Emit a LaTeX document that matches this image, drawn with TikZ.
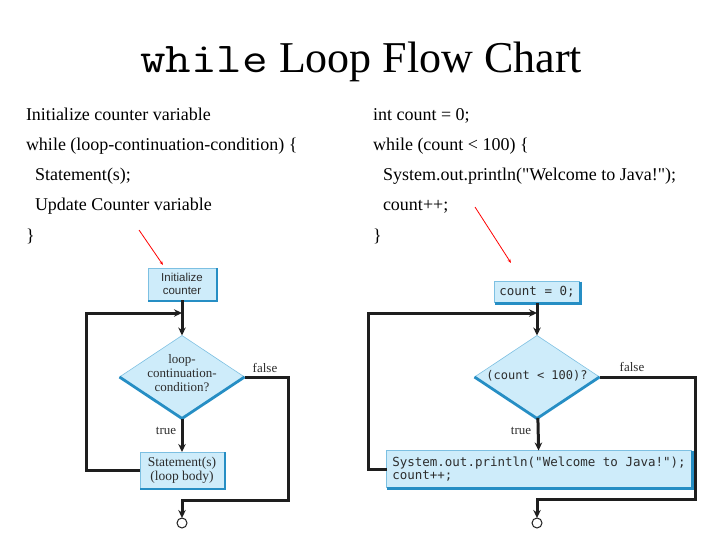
\documentclass[tikz,border=0pt]{standalone}
\usepackage{graphicx}
\usepackage{fontspec}
\setmainfont{Liberation Serif}
\newfontfamily\plainserif{Liberation Serif}
\newfontfamily\sansf{Liberation Sans}
\newfontfamily\codef{DejaVu Sans Mono}
\usetikzlibrary{shapes.geometric,arrows.meta}

\definecolor{boxfill}{RGB}{206,236,250}
\definecolor{boxedge}{RGB}{125,192,226}
\definecolor{boxshade}{RGB}{38,142,196}
\definecolor{flowc}{RGB}{30,30,30}
\definecolor{txtc}{RGB}{45,45,45}

\begin{document}
\begin{tikzpicture}[x=1pt,y=-1pt,
  every node/.style={inner sep=0pt, outer sep=0pt},
  listing/.style={anchor=base west, font=\plainserif\fontsize{18}{22}\selectfont},
  flowbox/.style={draw=boxedge, line width=0.6pt, fill=boxfill, text=txtc},
  decision/.style={diamond, draw=boxedge, line width=0.6pt, fill=boxfill,
    minimum width=125pt, minimum height=83pt},
  shade/.style={draw=boxshade, line width=2.8pt},
  flow/.style={draw=flowc, line width=3pt, -{Stealth[length=8pt,width=7.5pt]}},
  branch/.style={font=\fontsize{13}{14}\selectfont, text=txtc},
  endpt/.style={circle, draw=flowc, line width=1pt, fill=white, minimum size=10pt},
  pointer/.style={draw=red, line width=0.8pt, -{Stealth[length=4pt,width=3pt]}}
]
\useasboundingbox (0,0) rectangle (720,540);

% title
\node[anchor=base west, font=\fontsize{44}{50}\selectfont] (title) at (140,73)
  {\scalebox{1.17}[1]{\fontsize{42.5}{48}\ttfamily while}\hspace{11pt}Loop Flow Chart};

% general form of the loop
\node[listing] (l1) at (26,121) {Initialize counter variable};
\node[listing] (l2) at (26,151) {while (loop-continuation-condition) \{};
\node[listing] (l3) at (35,181) {Statement(s);};
\node[listing] (l4) at (35,211) {Update Counter variable};
\node[listing] (l5) at (26,241) {\}};

% concrete example
\node[listing] (r1) at (373,121) {int count = 0;};
\node[listing] (r2) at (373,151) {while (count < 100) \{};
\node[listing] (r3) at (383,181) {System.out.println("Welcome to Java!");};
\node[listing] (r4) at (383,211) {count++;};
\node[listing] (r5) at (373,241) {\}};

% pointers from the code to the charts
\coordinate (pa) at (139,230);
\coordinate (pb) at (163,265);
\coordinate (pc) at (475,207);
\coordinate (pd) at (511,263);
\draw[pointer] (pa) -- (pb);
\draw[pointer] (pc) -- (pd);

% ---------- general flow chart ----------
\node[flowbox, minimum width=68pt, minimum height=32pt, align=center,
  font=\sansf\fontsize{11.5}{13}\selectfont] (init) at (182,284) {Initialize\\counter};
\node[decision] (cond) at (182,377) {};
\node[align=center, font=\fontsize{13}{14}\selectfont, text=txtc] (condtxt) at (182,373)
  {loop-\\continuation-\\condition?};
\node[flowbox, minimum width=84pt, minimum height=36pt, align=center,
  font=\fontsize{13.5}{14}\selectfont] (body) at (182,470) {Statement(s)\\(loop body)};
\node[endpt] (stopL) at (182,523) {};
\coordinate (joinL) at (182,313);
\coordinate (backL) at (86,313);
\coordinate (exitL) at (288,500);
\coordinate (mergeL) at (182,500);

\draw[shade] ([xshift=1pt]init.north east) -- ([xshift=1pt,yshift=-1pt]init.south east)
  -- ([yshift=-1pt]init.south west);
\draw[shade] (cond.east) -- (cond.south) -- (cond.west);
\draw[shade] ([xshift=1pt]body.north east) -- ([xshift=1pt,yshift=-1pt]body.south east)
  -- ([yshift=-1pt]body.south west);

\draw[flow] (init) -- (cond);
\draw[flow] (cond) -- (body);
\draw[flow] (body.west) -- (body.west -| backL) -- (backL) -- (joinL);
\draw[flow] (cond.east) -| (exitL) -- (mergeL) -- (stopL);

\node[branch] (trueL) at (166,431) {true};
\node[branch] (falseL) at (265,368) {false};

% ---------- example flow chart ----------
\node[flowbox, minimum width=85pt, minimum height=21pt,
  font=\codef\fontsize{12.5}{14}\selectfont] (cinit) at (537,292) {count = 0;};
\node[decision] (rcond) at (537,377) {};
\node[font=\codef\fontsize{12}{14}\selectfont, text=txtc] (rcondtxt) at (537,376)
  {(count < 100)?};
\node[flowbox, minimum width=305pt, minimum height=37pt, align=left,
  font=\codef\fontsize{12.5}{13}\selectfont] (rbody) at (539,469)
  {System.out.println("Welcome to Java!");\\count++;};
\node[endpt] (stopR) at (537,523) {};
\coordinate (joinR) at (537,313);
\coordinate (backR) at (368,313);
\coordinate (exitR) at (695,499);
\coordinate (mergeR) at (537,499);

\draw[shade] ([xshift=1pt]cinit.north east) -- ([xshift=1pt,yshift=-1pt]cinit.south east)
  -- ([yshift=-1pt]cinit.south west);
\draw[shade] (rcond.east) -- (rcond.south) -- (rcond.west);
\draw[shade] ([xshift=1pt]rbody.north east) -- ([xshift=1pt,yshift=-1pt]rbody.south east)
  -- ([yshift=-1pt]rbody.south west);

\draw[flow] (cinit) -- (rcond);
\draw[flow] (rcond) -- (rbody);
\draw[flow] (rbody.west) -- (rbody.west -| backR) -- (backR) -- (joinR);
\draw[flow] (rcond.east) -| (exitR) -- (mergeR) -- (stopR);

\node[branch] (trueR) at (521,431) {true};
\node[branch] (falseR) at (632,367) {false};
\end{tikzpicture}
\end{document}
